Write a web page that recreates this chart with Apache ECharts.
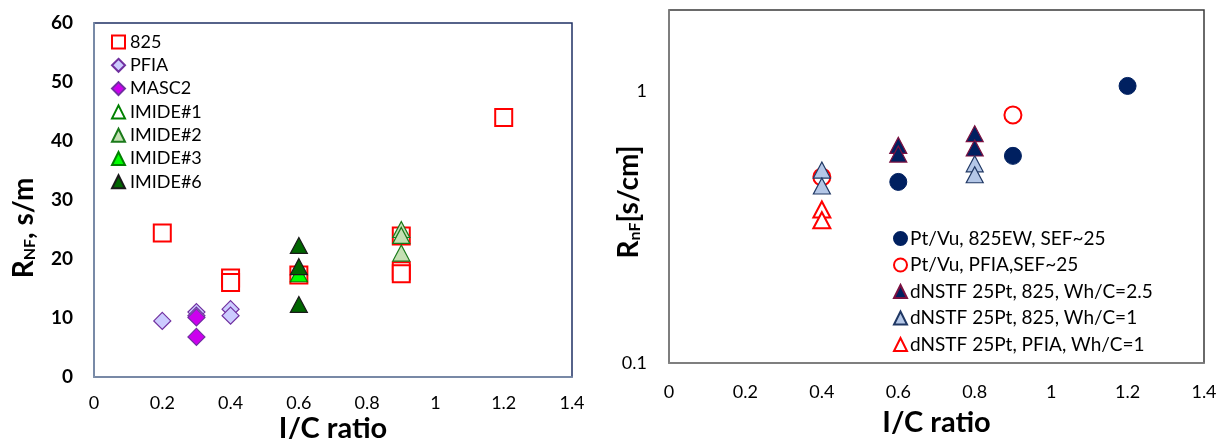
<!DOCTYPE html>
<html>
<head>
<meta charset="utf-8">
<script src="https://cdn.jsdelivr.net/npm/echarts@6/dist/echarts.min.js"></script>
<style>
html,body{margin:0;padding:0;background:#fff;}
#c{width:1217px;height:439px;}
</style>
</head>
<body>
<div id="c"></div>
<script>
// ---------- Left chart data (R_NF, s/m vs I/C ratio) ----------
const s825X   = [0.2, 0.4, 0.4, 0.6, 0.9, 0.9, 0.9, 1.2];
const s825Y   = [24.4, 16.8, 16.0, 17.3, 23.9, 18.0, 17.5, 44.0];
const pfiaX   = [0.2, 0.3, 0.3, 0.4, 0.4];
const pfiaY   = [9.5, 11.0, 10.4, 11.5, 10.4];
const masc2X  = [0.3, 0.3];
const masc2Y  = [10.1, 6.8];
const imide1X = [];
const imide1Y = [];
const imide2X = [0.9, 0.9, 0.9];
const imide2Y = [25.0, 24.0, 21.0];
const imide3X = [0.6];
const imide3Y = [17.5];
const imide6X = [0.6, 0.6, 0.6];
const imide6Y = [22.3, 18.7, 12.3];

// ---------- Right chart data (R_nF [s/cm] vs I/C ratio, log) ----------
const pt825X   = [0.6, 0.9, 1.2];
const pt825Y   = [0.465, 0.58, 1.05];
const ptPfiaX  = [0.4, 0.9];
const ptPfiaY  = [0.485, 0.82];
const dn25X    = [0.6, 0.6, 0.8, 0.8];
const dn25Y    = [0.634, 0.589, 0.70, 0.62];
const dn1X     = [0.4, 0.4, 0.8, 0.8];
const dn1Y     = [0.514, 0.449, 0.542, 0.494];
const dnPfiaX  = [0.4, 0.4];
const dnPfiaY  = [0.368, 0.336];

// ---------- Axis settings ----------
const xMin = 0, xMax = 1.4, xStep = 0.2;
const yLeftMin = 0, yLeftMax = 60, yLeftStep = 10;
const yRightMin = 0.1, yRightMax = 2;

const leftNames  = ['825', 'PFIA', 'MASC2', 'IMIDE#1', 'IMIDE#2', 'IMIDE#3', 'IMIDE#6'];
const rightNames = ['Pt/Vu, 825EW, SEF~25', 'Pt/Vu, PFIA,SEF~25', 'dNSTF 25Pt, 825, Wh/C=2.5', 'dNSTF 25Pt, 825, Wh/C=1', 'dNSTF 25Pt, PFIA, Wh/C=1'];

const zip = (xs, ys) => xs.map((x, i) => [x, ys[i]]);
const FONT = 'Lato, "Noto Sans", sans-serif';

function mk(name, xs, ys, idx, symbol, size, fill, border, bw) {
  return {
    name: name, type: 'scatter', xAxisIndex: idx, yAxisIndex: idx,
    data: zip(xs, ys), symbol: symbol, symbolSize: size,
    itemStyle: { color: fill, borderColor: border, borderWidth: bw, opacity: 1 },
    emphasis: { disabled: true }
  };
}

const TRI = [17, 16];
const series = [
  mk('825',     s825X,   s825Y,   0, 'rect',     17,  '#ffffff', '#ff0000', 2),
  mk('PFIA',    pfiaX,   pfiaY,   0, 'diamond',  17,  '#ccccff', '#7030a0', 1.2),
  mk('MASC2',   masc2X,  masc2Y,  0, 'diamond',  17,  '#cc00ee', '#7030a0', 1.2),
  mk('IMIDE#1', imide1X, imide1Y, 0, 'triangle', TRI, '#ffffff', '#008000', 1.2),
  mk('IMIDE#2', imide2X, imide2Y, 0, 'triangle', TRI, '#c5e0b4', '#1a7a1a', 1.2),
  mk('IMIDE#3', imide3X, imide3Y, 0, 'triangle', TRI, '#00ff00', '#008000', 1.2),
  mk('IMIDE#6', imide6X, imide6Y, 0, 'triangle', TRI, '#006600', '#1a1a1a', 1.2),

  mk(rightNames[0], pt825X,  pt825Y,  1, 'circle',   17,  '#002060', '#002060', 1),
  mk(rightNames[1], ptPfiaX, ptPfiaY, 1, 'circle',   17,  '#ffffff', '#ff0000', 2),
  mk(rightNames[2], dn25X,   dn25Y,   1, 'triangle', TRI, '#002060', '#7b1040', 1.2),
  mk(rightNames[3], dn1X,    dn1Y,    1, 'triangle', TRI, '#b4c7e7', '#203864', 1.2),
  mk(rightNames[4], dnPfiaX, dnPfiaY, 1, 'triangle', TRI, '#ffffff', '#ff0000', 2)
];

const xAxisBase = (gi, margin, nameGap, lineColor) => ({
  type: 'value', gridIndex: gi, min: xMin, max: xMax, interval: xStep,
  splitLine: { show: false },
  axisTick: { show: false },
  axisLine: { show: true, lineStyle: { color: lineColor, width: 1.5 } },
  axisLabel: { color: '#000', fontSize: 18, fontFamily: FONT, margin: margin },
  name: 'I/C ratio', nameLocation: 'middle', nameGap: nameGap, nameMoveOverlap: false,
  nameTextStyle: { color: '#000', fontSize: 29, fontWeight: 'bold', fontFamily: FONT }
});

const titleRich = {
  b: { fontSize: 28, fontWeight: 'bold', color: '#000', fontFamily: FONT, lineHeight: 30 },
  s: { fontSize: 16, fontWeight: 'bold', color: '#000', fontFamily: FONT, lineHeight: 30, padding: [12, 0, 0, 0] }
};

const chart = echarts.init(document.getElementById('c'), null, { renderer: 'canvas' });
chart.setOption({
  animation: false,
  backgroundColor: '#ffffff',
  grid: [
    { left: 94, top: 23, width: 478, height: 354, containLabel: false, outerBoundsMode: 'none', show: true, borderColor: '#1f3064', borderWidth: 1.5, backgroundColor: 'transparent' },
    { left: 669, top: 10, width: 535, height: 353, containLabel: false, outerBoundsMode: 'none', show: true, borderColor: '#3a3a3a', borderWidth: 1.5, backgroundColor: 'transparent' }
  ],
  legend: [
    {
      data: leftNames, orient: 'vertical', left: 106, top: 28,
      itemWidth: 13, itemHeight: 13, itemGap: 5.3,
      textStyle: { color: '#000', fontSize: 18, lineHeight: 16, fontFamily: FONT },
      selectedMode: false
    },
    {
      data: rightNames, orient: 'vertical', left: 888, top: 224,
      itemWidth: 13, itemHeight: 13, itemGap: 7.5,
      textStyle: { color: '#000', fontSize: 19, lineHeight: 18, fontFamily: FONT, padding: [0, 0, 0, -2] },
      selectedMode: false
    }
  ],
  xAxis: [
    xAxisBase(0, 17, 37, '#8497b0'),
    xAxisBase(1, 20, 45, '#868686')
  ],
  yAxis: [
    {
      type: 'value', gridIndex: 0, min: yLeftMin, max: yLeftMax, interval: yLeftStep,
      splitLine: { show: false }, axisTick: { show: false },
      axisLine: { show: true, lineStyle: { color: '#8497b0', width: 1.5 } },
      axisLabel: { color: '#000', fontSize: 19, fontWeight: 'bold', fontFamily: FONT, margin: 21 },
      name: '{b|R}{s|NF}{b|, s/m}', nameLocation: 'middle', nameGap: 55, nameMoveOverlap: false,
      nameTextStyle: { padding: [0, 56, 0, 0], rich: titleRich }
    },
    {
      type: 'log', logBase: 10, gridIndex: 1, min: yRightMin, max: yRightMax,
      splitLine: { show: false }, minorSplitLine: { show: false },
      axisTick: { show: false }, minorTick: { show: false },
      axisLine: { show: true, lineStyle: { color: '#868686', width: 1.5 } },
      axisLabel: {
        color: '#000', fontSize: 18, fontFamily: FONT, margin: 22,
        formatter: function (v) {
          const l = Math.log10(v);
          return Math.abs(l - Math.round(l)) < 1e-6 ? String(+v.toPrecision(3)) : '';
        }
      },
      name: '{b|R}{s|nF}{b|[s/cm]}', nameLocation: 'middle', nameGap: 25, nameMoveOverlap: false,
      nameTextStyle: { padding: [0, 31, 0, 0], rich: titleRich }
    }
  ],
  series: series
});
</script>
</body>
</html>
